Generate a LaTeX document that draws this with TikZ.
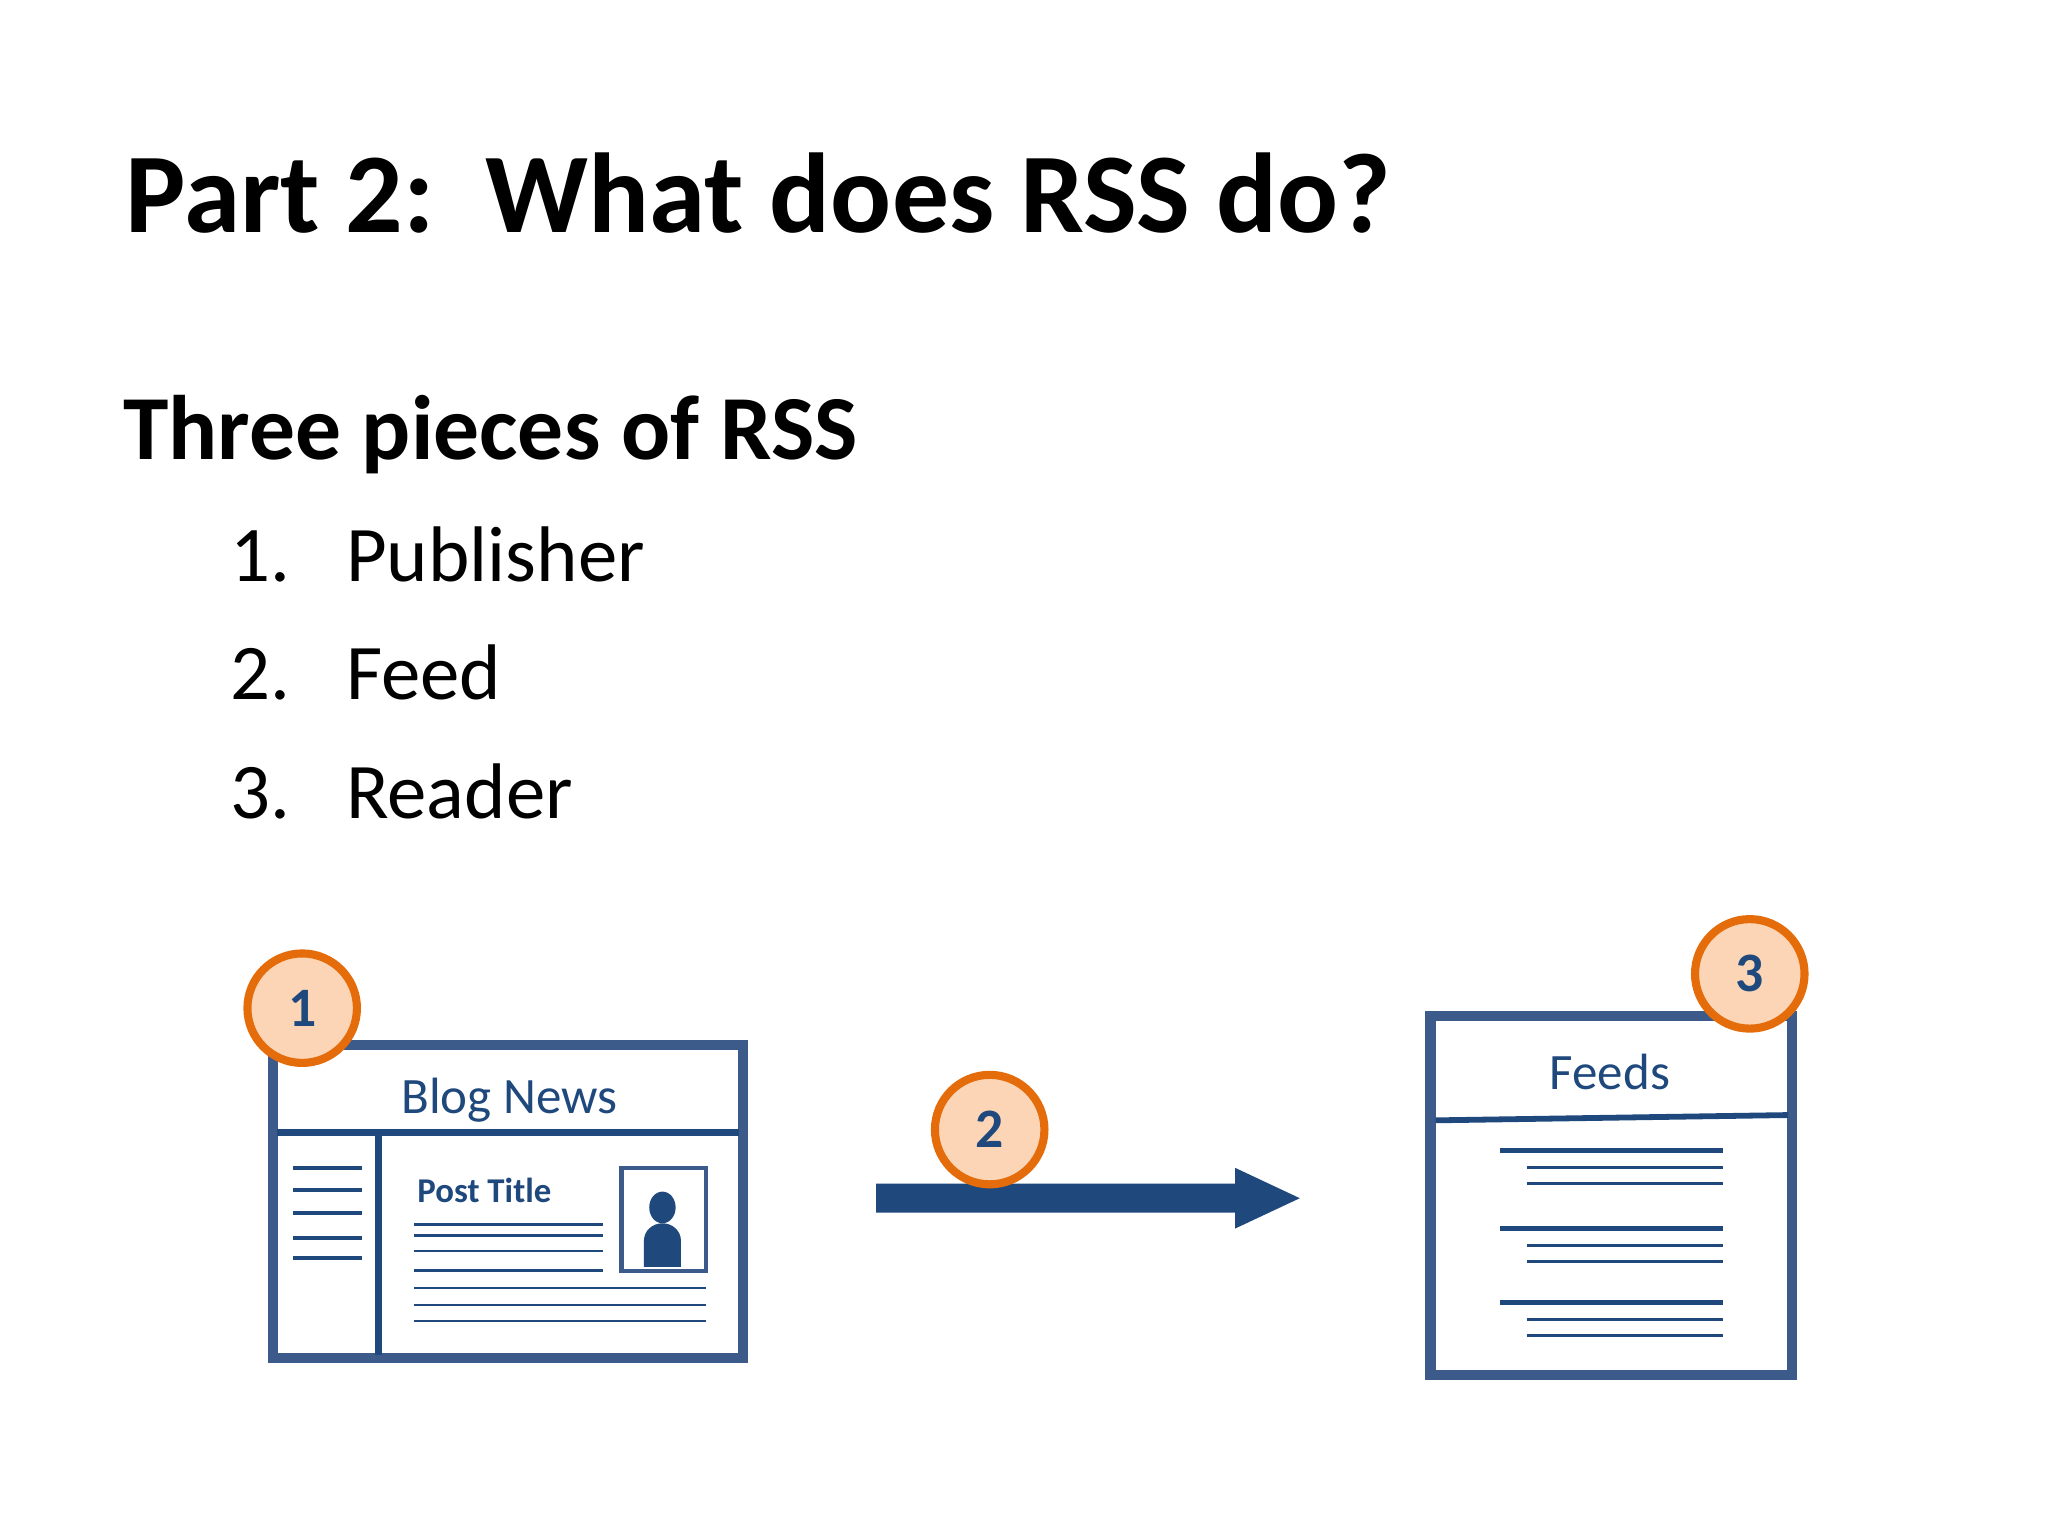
\documentclass[tikz,border=0pt]{standalone}
\usepackage{fontspec}
\setmainfont{Carlito}
\begin{document}
\begin{tikzpicture}[x=0.02cm,y=-0.02cm,
  boxc/.style={draw=frameblue,line width=4.5pt},
  ln/.style={draw=lineblue,line width=1.2pt},
  lnb/.style={draw=lineblue,line width=2.2pt},
  badge/.style={circle,draw=orng,fill=peach,line width=3.5pt,minimum size=1.66cm,inner sep=0pt,text=lineblue,font=\fontsize{24}{28}\selectfont\bfseries},
  lst/.style={anchor=base west,font=\fontsize{34}{40}\selectfont}]
\definecolor{frameblue}{HTML}{3C5A8A}
\definecolor{lineblue}{HTML}{1F497D}
\definecolor{orng}{HTML}{E46C0A}
\definecolor{peach}{HTML}{FBD5B5}
\useasboundingbox[fill=white] (0,0) rectangle (1552,1164);
\node[anchor=base west,inner sep=0,font=\fontsize{49}{56}\selectfont\bfseries] (title) at (95,176) {Part 2:\ \ What does RSS do?};
\node[anchor=base west,inner sep=0,font=\fontsize{39.5}{46}\selectfont\bfseries] (sub) at (93,348) {Three pieces of RSS};
\node[lst,inner sep=0] (n1) at (174,441) {1.};\node[lst,inner sep=0] (t1) at (262,441) {Publisher};
\node[lst,inner sep=0] (n2) at (174,530) {2.};\node[lst,inner sep=0] (t2) at (262,530) {Feed};
\node[lst,inner sep=0] (n3) at (174,620) {3.};\node[lst,inner sep=0] (t3) at (262,620) {Reader};
% blog box
\draw[boxc] (207,792) rectangle (563,1029);
\draw[lnb,line width=3pt] (210,858) -- (560,858);
\draw[lnb,line width=3pt] (287,858) -- (287,1027);
\node[text=lineblue,font=\fontsize{22}{26}\selectfont] (blog) at (386,834) {Blog News};
\foreach \y in {885,902,919,938,953} \draw[ln,line width=1.8pt] (222,\y) -- (274,\y);
\node[anchor=base west,inner sep=0,text=lineblue,font=\fontsize{15}{18}\selectfont\bfseries] (pt) at (316,911) {Post Title};
\foreach \y in {928,936,948,963} \draw[ln] (314,\y) -- (457,\y);
\foreach \y in {976,989,1001} \draw[ln] (314,\y) -- (535,\y);
\draw[draw=frameblue,line width=1.8pt] (471,885) rectangle (535,963);
\fill[lineblue] (502,915) ellipse (10 and 12);
\fill[lineblue] (488,960) -- (488,940) arc[start angle=180,end angle=0,x radius=14,y radius=-13] -- (516,960) -- cycle;
\node[badge] (b1) at (229,764) {1};
% arrow
\fill[lineblue] (664,897) -- (936,897) -- (936,885) -- (985,908) -- (936,931) -- (936,919) -- (664,919) -- cycle;
\node[badge] (b2) at (750,856) {2};
% feeds box
\draw[boxc] (1084,770) rectangle (1358,1042);
\draw[lnb,line width=2.5pt] (1088,849) -- (1355,845);
\node[text=lineblue,font=\fontsize{22}{26}\selectfont] (feeds) at (1220,812) {Feeds};
\foreach \y in {872,931,987}{
  \draw[lnb] (1137,\y) -- (1306,\y);
  \draw[ln] (1157,\y+13) -- (1306,\y+13);
  \draw[ln] (1157,\y+25) -- (1306,\y+25);}
\node[badge] (b3) at (1326,738) {3};
\end{tikzpicture}
\end{document}
